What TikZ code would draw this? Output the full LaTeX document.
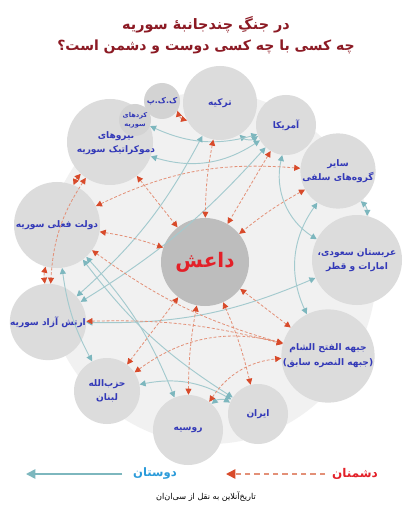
\documentclass[tikz,border=0pt]{standalone}
\usepackage{fontspec}
\usetikzlibrary{arrows.meta}
\TeXXeTstate=1
\newfontfamily\fa[Script=Arabic]{DejaVu Sans}
\newcommand\faR[1]{\beginR#1\endR}
\definecolor{nodec}{HTML}{DCDCDC}
\definecolor{isisc}{HTML}{BDBDBD}
\definecolor{txtblue}{HTML}{3339B8}
\definecolor{isisred}{HTML}{E32028}
\definecolor{titlec}{HTML}{8C1A24}
\definecolor{enemyl}{HTML}{E39077}
\definecolor{enemya}{HTML}{D84A2A}
\definecolor{friendl}{HTML}{A3CACE}
\definecolor{frienda}{HTML}{7DB7BE}
\definecolor{friendtxt}{HTML}{2B9BDA}
\definecolor{bgc}{HTML}{F1F1F1}
\tikzset{
  blob/.style={circle, fill=nodec, inner sep=0pt, minimum size=#1*0.75pt,
    text=txtblue, font=\fa\bfseries\fontsize{6.8}{11}\selectfont, align=center},
  enemy/.style={draw=enemyl, line width=0.6pt, dash pattern=on 2.2pt off 1.4pt,
    {Triangle[length=4.5pt,width=4.5pt,color=enemya]}-{Triangle[length=4.5pt,width=4.5pt,color=enemya]}},
  friend/.style={draw=friendl, line width=0.7pt,
    {Triangle[length=4.5pt,width=4.5pt,color=frienda]}-{Triangle[length=4.5pt,width=4.5pt,color=frienda]}},
  lbl/.style={inner sep=0pt}
}
\begin{document}
\begin{tikzpicture}[x=0.75pt,y=-0.75pt]
\useasboundingbox (0,0) rectangle (412,520);
\fill[white] (0,0) rectangle (412,520);
\fill[bgc] (210,268) ellipse[x radius=125pt, y radius=132pt];
% title
\node[lbl, text=titlec, font=\fa\bfseries\fontsize{10.8}{14}\selectfont] (t1) at (206,25) {\faR{در جنگِ چندجانبهٔ سوریه}};
\node[lbl, text=titlec, font=\fa\bfseries\fontsize{10.5}{14}\selectfont] (t2) at (206,47) {\faR{چه کسی با چه کسی دوست و دشمن است؟}};
% nodes
\node[blob=88, fill=isisc, text=isisred, font=\fa\bfseries\fontsize{15}{18}\selectfont] (isis) at (205,262) {\faR{داعش}};
\node[blob=74] (turkey) at (220,103) {\faR{ترکیه}};
\node[blob=60] (usa) at (286,125) {\faR{آمریکا}};
\node[blob=64] (salafi) at (338,171) {\faR{سایر}\\\faR{گروه‌های سلفی}};
\node[blob=90] (saudi) at (357,260) {\faR{عربستان سعودی،}\\\faR{امارات و قطر}};
\node[blob=90] (nusra) at (328,356) {\faR{جبهه الفتح الشام}\\\faR{(جبهه النصره سابق)}};
\node[blob=60] (iran) at (258,414) {\faR{ایران}};
\node[blob=70] (russia) at (188,430) {\faR{روسیه}};
\node[blob=66] (hezb) at (107,391) {\faR{حزب‌الله}\\\faR{لبنان}};
\node[blob=76] (fsa) at (48,322) {\faR{ارتش آزاد سوریه}};
\node[blob=86] (gov) at (57,225) {\faR{دولت فعلی سوریه}};
\node[blob=86] (sdf) at (110,142) {};
\node[lbl, text=txtblue, font=\fa\bfseries\fontsize{6.8}{11}\selectfont, align=center] (sdft) at (116,143) {\faR{نیروهای}\\\faR{دموکراتیک سوریه}};
\node[blob=32, fill=nodec!96!black, font=\fa\bfseries\fontsize{5}{7}\selectfont] (kurds) at (135,120) {\faR{کردهای}\\\faR{سوریه}};
\node[blob=36, fill=nodec!96!black, font=\fa\bfseries\fontsize{6}{8}\selectfont] (pkk) at (162,101) {\faR{ک.ک.پ}};
% friends
\draw[friend] (turkey) to[bend right=40] (usa);
\draw[friend] (usa) to[bend left=25] (sdf);
\draw[friend] (usa) to[bend left=20] (kurds);
\draw[friend] (turkey) to[bend left=10] (fsa);
\draw[friend] (usa) to[bend left=8] (fsa);
\draw[friend] (saudi) to[bend left=12] (fsa);
\draw[friend] (saudi) to[bend right=25] (salafi);
\draw[friend] (usa) to[bend right=35] (saudi);
\draw[friend] (salafi) to[bend right=30] (nusra);
\draw[friend] (russia) to[bend right=10] (gov);
\draw[friend] (iran) to[bend left=10] (gov);
\draw[friend] (hezb) to[bend left=10] (gov);
\draw[friend] (iran) to[bend right=35] (russia);
\draw[friend] (iran) to[bend right=20] (hezb);
% enemies
\draw[enemy] (gov) to[bend left=5] (isis);
\draw[enemy] (sdf) to (isis);
\draw[enemy] (turkey) to[bend right=5] (isis);
\draw[enemy] (usa) to (isis);
\draw[enemy] (salafi) to[bend right=5] (isis);
\draw[enemy] (hezb) to (isis);
\draw[enemy] (russia) to[bend left=5] (isis);
\draw[enemy] (iran) to[bend right=5] (isis);
\draw[enemy] (nusra) to (isis);
\draw[enemy] (turkey) to[bend left=30] (pkk);
\draw[enemy] (gov) to[bend left=15] (salafi);
\draw[enemy] (gov) to[bend right=10] (fsa);
\draw[enemy] (sdf) to[bend right=10] (gov);
\draw[enemy] (sdf) to[bend right=15] (fsa);
\draw[enemy] (gov) to[bend right=10] (nusra);
\draw[enemy] (fsa) to[bend left=8] (nusra);
\draw[enemy] (hezb) to[bend left=25] (nusra);
\draw[enemy] (russia) to[bend left=25] (nusra);
% legend
\node[lbl, text=isisred, font=\fa\bfseries\fontsize{9}{11}\selectfont] (en) at (355,474) {\faR{دشمنان}};
\node[lbl, text=friendtxt, font=\fa\bfseries\fontsize{8.7}{11}\selectfont] (fr) at (155,474) {\faR{دوستان}};
\coordinate (enA) at (325,474);
\coordinate (enB) at (226,474);
\coordinate (frA) at (122,474);
\coordinate (frB) at (26,474);
\draw[draw=enemyl, line width=1.1pt, dash pattern=on 4pt off 3pt, -{Triangle[length=7pt,width=7pt,color=enemya]}] (enA) -- (enB);
\draw[draw=frienda, line width=1.3pt, -{Triangle[length=7pt,width=7pt,color=frienda]}] (frA) -- (frB);
\node[lbl, font=\fa\fontsize{6.1}{7}\selectfont] (src) at (206,497) {\faR{تاریخ‌آنلاین به نقل از سی‌ان‌ان}};
\end{tikzpicture}
\end{document}
